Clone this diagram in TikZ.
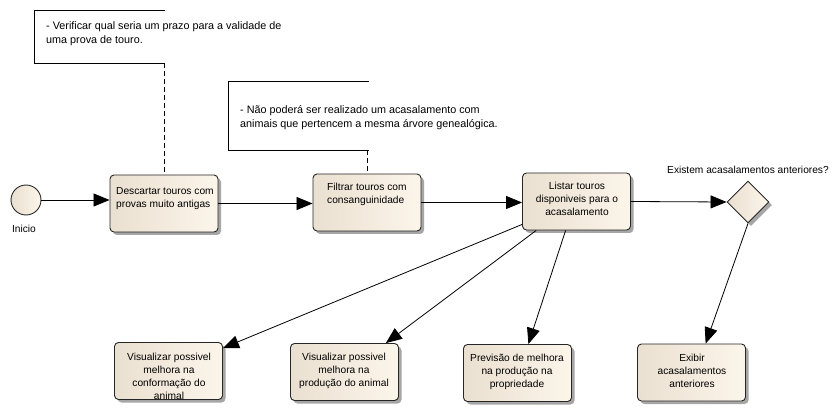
\documentclass[tikz,border=0pt]{standalone}
\usepackage{fontspec}
\setmainfont{Liberation Sans}
\usetikzlibrary{arrows.meta,shadows,shapes.geometric,calc}
\definecolor{fillL}{HTML}{EAE0D1}
\definecolor{fillR}{HTML}{FCF5EA}
\begin{document}
\begin{tikzpicture}[x=1pt,y=-1pt,font=\fontsize{10.2}{13}\selectfont]
\useasboundingbox (0,0) rectangle (838,414);
\tikzset{
  shade/.style={drop shadow={shadow xshift=3pt,shadow yshift=-3pt,fill=black!35,opacity=1}},
  act/.style={draw=black!85,line width=0.9pt,rounded corners=4pt,left color=fillL,right color=fillR,shade,minimum width=108pt,minimum height=57pt,inner sep=0pt},
  txt/.style={inner sep=0pt,align=center},
  notetxt/.style={inner sep=0pt,anchor=north west,align=left,font=\fontsize{10.8}{14}\selectfont},
  flow/.style={draw=black,line width=0.8pt,-{Triangle[length=16pt,width=13pt]}},
  noteline/.style={draw=black,line width=0.8pt},
  anchorline/.style={draw=black,line width=0.8pt,dash pattern=on 5pt off 3pt},
}
% start event
\node[circle,draw=black!85,line width=0.9pt,left color=fillL,right color=fillR,minimum size=30pt,inner sep=0pt] (start) at (26,200) {};
\node[txt] (startlbl) at (24,229) {Inicio};
% activities
\node[act] (b1) at (164,203.5) {};
\node[txt,anchor=west,align=left] (t1) at (116,199) {Descartar touros com\\provas muito antigas};
\node[act] (b2) at (367,202.5) {};
\node[txt,anchor=west,align=left] (t2) at (327,194) {Filtrar touros com\\consanguinidade};
\node[act] (b3) at (576.5,201.5) {};
\node[txt] (t3) at (577,199) {Listar touros\\disponiveis para o\\acasalamento};
% gateway
\node[diamond,aspect=1,draw=black!85,line width=0.9pt,left color=fillL,right color=fillR,shade,minimum size=42pt,inner sep=0pt] (d) at (748,202) {};
\node[txt] (dl) at (748,170) {Existem acasalamentos anteriores?};
% bottom activities
\node[act] (v1) at (168.5,371) {};
\node[txt] (tv1) at (169,376) {Visualizar possivel\\melhora na\\conformação do\\animal};
\node[act] (v2) at (344.5,372) {};
\node[txt] (tv2) at (344,371) {Visualizar possivel\\melhora na\\produção do animal};
\node[act] (v3) at (517.5,373) {};
\node[txt] (tv3) at (517,372) {Previsão de melhora\\na produção na\\propriedade};
\node[act] (v4) at (691.5,372.5) {};
\node[txt] (tv4) at (692,371) {Exibir\\acasalamentos\\anteriores};
% notes
\coordinate (n1a) at (165,10);
\coordinate (n1b) at (165,63);
\draw[noteline] (n1a) -- (34,10) -- (34,63) -- (n1b);
\node[notetxt] (nt1) at (46,21) {- Verificar qual seria um prazo para a validade de\\uma prova de touro.};
\coordinate (n2a) at (369,81);
\coordinate (n2b) at (369,150);
\draw[noteline] (n2a) -- (228,81) -- (228,150) -- (n2b);
\node[notetxt] (nt2) at (240,105) {- Não poderá ser realizado um acasalamento com\\animais que pertencem a mesma árvore genealógica.};
\draw[anchorline] (n1b -| b1.north) -- (b1.north);
\draw[anchorline] (n2b -| b2.north) -- (b2.north);
% flows
\draw[flow] (start) -- (start -| b1.west);
\draw[flow] (b1.east) -- (b1.east -| b2.west);
\draw[flow] (b2.east) -- (b2.east -| b3.west);
\draw[flow] (b3.east) -- (d.west);
\draw[flow] ($(b3.south west)+(0,-6)$) -- ($(v1.north east)+(0,6)$);
\draw[flow] ($(b3.south west)!0.13!(b3.south east)$) -- ($(v2.north west)!0.88!(v2.north east)$);
\draw[flow] ($(b3.south west)!0.4!(b3.south east)$) -- ($(v3.north west)!0.6!(v3.north east)$);
\draw[flow] (d.south) -- ($(v4.north west)!0.63!(v4.north east)$);
\end{tikzpicture}
\end{document}
